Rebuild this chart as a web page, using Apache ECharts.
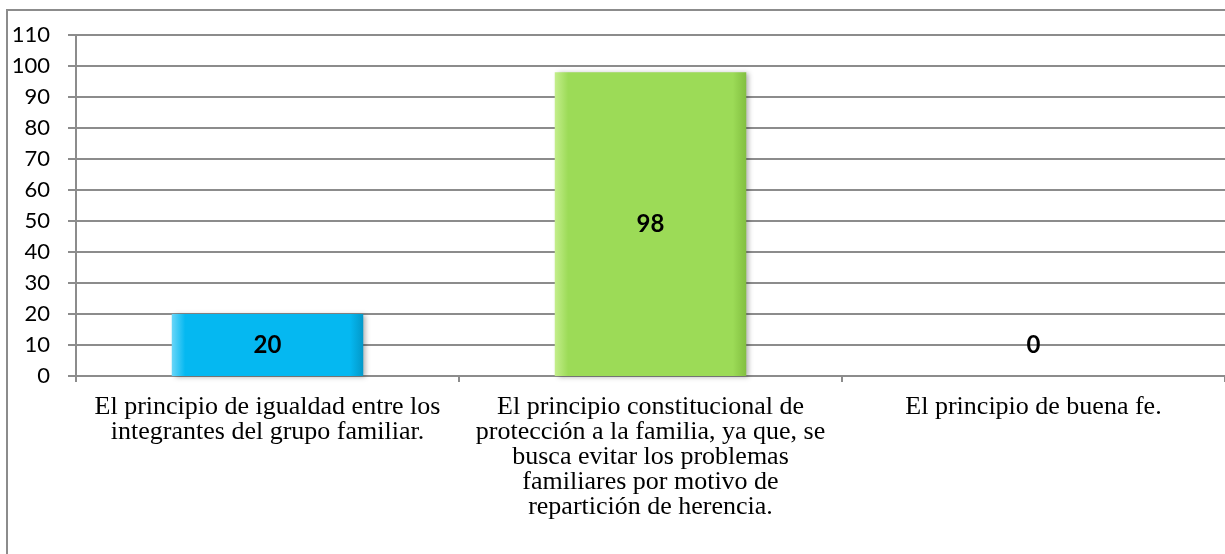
<!DOCTYPE html>
<html>
<head>
<meta charset="utf-8">
<script src="https://cdn.jsdelivr.net/npm/echarts@6/dist/echarts.min.js"></script>
<style>
  html, body { margin: 0; padding: 0; background: #fff; }
  #chart { width: 1225px; height: 554px; }
</style>
</head>
<body>
<div id="chart"></div>
<script>
// data
var categories = [
  'El principio de igualdad entre los\nintegrantes del grupo familiar.',
  'El principio constitucional de\nprotección a la familia, ya que, se\nbusca evitar los problemas\nfamiliares por motivo de\nrepartición de herencia.',
  'El principio de buena fe.'
];
var values = [20, 98, 0];

// [left edge, body, right edge]
var barShades = [
  ['#6AD6F8', '#05B8F1', '#0398C8'],
  ['#C4EE8C', '#9CDB57', '#82BF40'],
  ['#6AD6F8', '#05B8F1', '#0398C8']
];

var chart = echarts.init(document.getElementById('chart'));

function barItem(v, i) {
  var s = barShades[i];
  var item = {
    value: v,
    itemStyle: {
      color: {
        type: 'linear', x: 0, y: 0, x2: 1, y2: 0,
        colorStops: [
          { offset: 0, color: s[0] },
          { offset: 0.07, color: s[1] },
          { offset: 0.93, color: s[1] },
          { offset: 1, color: s[2] }
        ]
      },
      shadowColor: 'rgba(0,0,0,0.3)',
      shadowBlur: 5,
      shadowOffsetX: 3,
      shadowOffsetY: 1
    }
  };
  // zero bar: nothing drawn, label sits up off the axis like excel does
  if (v === 0) {
    item.itemStyle = { color: 'rgba(0,0,0,0)' };
    item.label = { position: 'top', distance: 19 };
  }
  return item;
}

var option = {
  animation: false,
  backgroundColor: '#fff',
  graphic: [{
    type: 'rect',
    shape: { x: 7, y: 10, width: 1240, height: 560 },
    style: { fill: 'none', stroke: '#8c8c8c', lineWidth: 2 },
    silent: true
  }],
  grid: { left: 76, right: -1, top: 35, bottom: 178 },
  xAxis: {
    type: 'category',
    data: categories,
    axisLine: { show: true, lineStyle: { color: '#8c8c8c', width: 2 } },
    axisTick: { show: true, length: 6, lineStyle: { color: '#8c8c8c', width: 2 } },
    axisLabel: {
      interval: 0,
      margin: 19,
      color: '#000',
      fontFamily: '"Liberation Serif", "DejaVu Serif", serif',
      fontSize: 26,
      lineHeight: 25
    }
  },
  yAxis: {
    type: 'value',
    min: 0,
    max: 110,
    interval: 10,
    axisLine: { show: true, lineStyle: { color: '#8c8c8c', width: 2 } },
    axisTick: { show: true, length: 8, lineStyle: { color: '#8c8c8c', width: 2 } },
    axisLabel: {
      margin: 26,
      color: '#000',
      fontFamily: 'Lato, "Open Sans", sans-serif',
      fontSize: 22
    },
    splitLine: { lineStyle: { color: '#8c8c8c', width: 2 } }
  },
  series: [{
    type: 'bar',
    barWidth: '50%',
    data: values.map(barItem),
    label: {
      show: true,
      position: 'inside',
      color: '#000',
      fontWeight: 'bold',
      fontFamily: 'Lato, "Open Sans", sans-serif',
      fontSize: 24
    }
  }]
};

chart.setOption(option);
</script>
</body>
</html>
